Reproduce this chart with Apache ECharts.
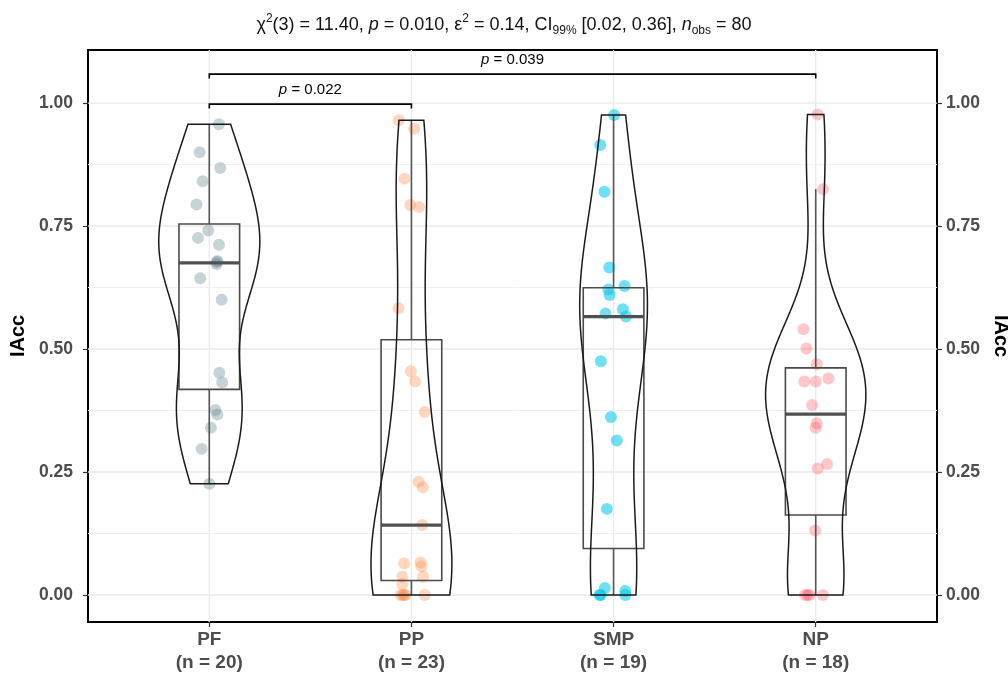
<!DOCTYPE html>
<html><head><meta charset="utf-8">
<script src="https://cdn.jsdelivr.net/npm/echarts@6/dist/echarts.min.js"></script>
<style>html,body{margin:0;padding:0;background:#fff}#c{width:1008px;height:678px}</style>
</head><body><div id="c"></div>
<script>
// ---- data ----
const categories = ['PF', 'PP', 'SMP', 'NP'];
const groupSizes = [20, 23, 19, 18];
const pfValues = [0.957,0.900,0.868,0.841,0.794,0.741,0.726,0.712,0.679,0.673,0.677,0.644,0.600,0.452,0.432,0.376,0.367,0.340,0.297,0.226];
const ppValues = [0.965,0.948,0.846,0.793,0.789,0.583,0.455,0.434,0.372,0.230,0.219,0.142,0.066,0.064,0.058,0.037,0.037,0.022,0,0,0,0,0];
const smpValues = [0.976,0.915,0.820,0.666,0.628,0.621,0.610,0.581,0.572,0.566,0.475,0.362,0.314,0.175,0.014,0.008,0,0,0];
const npValues = [0.977,0.825,0.540,0.501,0.469,0.440,0.434,0.434,0.386,0.349,0.340,0.266,0.257,0.131,0,0,0,0];
// jitter offsets (category units)
const pfJitter = [0.048,-0.048,0.054,-0.033,-0.063,-0.005,-0.056,0.048,0.040,0.036,0.038,-0.045,0.061,0.050,0.064,0.030,0.040,0.008,-0.038,0];
const ppJitter = [-0.063,0.013,-0.035,-0.006,0.038,-0.064,-0.003,0.018,0.066,0.035,0.056,0.053,0.045,-0.036,0.050,-0.045,0.058,-0.045,-0.053,-0.036,0.066,-0.042,-0.030];
const smpJitter = [0.003,-0.066,-0.045,-0.021,0.054,-0.025,-0.020,0.046,-0.040,0.061,-0.063,-0.013,0.016,-0.033,-0.043,0.058,-0.069,0.058,-0.064];
const npJitter = [0.010,0.036,-0.061,-0.046,0.005,0.063,-0.056,0.001,-0.018,0.005,0,0.056,0.010,-0.003,-0.053,-0.031,0.035,-0.040];
const yTicks = [0, 0.25, 0.5, 0.75, 1];
const yMinor = [0.125, 0.375, 0.625, 0.875];
const bracketFrom = [1, 1];
const bracketTo = [2, 4];
const bracketY = [0.998, 1.059];
const bracketP = ['0.022', '0.039'];

const groups = [pfValues, ppValues, smpValues, npValues];
const jitters = [pfJitter, ppJitter, smpJitter, npJitter];
const pointColors = ['rgba(100,135,145,0.45)', 'rgba(255,130,60,0.4)', 'rgba(0,200,235,0.7)', 'rgba(255,80,90,0.4)'];
const FONT = "'Liberation Sans', Arial, sans-serif";

// ---- stats ----
function quant(s, p) { const h = (s.length - 1) * p, lo = Math.floor(h), hi = Math.ceil(h); return s[lo] + (h - lo) * (s[hi] - s[lo]); }
function sd(a) { const m = a.reduce((x, y) => x + y, 0) / a.length; return Math.sqrt(a.reduce((s, x) => s + (x - m) * (x - m), 0) / (a.length - 1)); }
function bwNrd0(a) {
  const s = a.slice().sort((x, y) => x - y);
  const iqr = quant(s, 0.75) - quant(s, 0.25);
  let lo = Math.min(sd(a), iqr / 1.34);
  if (!lo) lo = sd(a) || 1;
  return 0.9 * lo * Math.pow(a.length, -0.2);
}
const boxStats = groups.map(a => {
  const s = a.slice().sort((x, y) => x - y);
  const q1 = quant(s, 0.25), med = quant(s, 0.5), q3 = quant(s, 0.75), iqr = q3 - q1;
  const lowW = s.filter(v => v >= q1 - 1.5 * iqr)[0];
  const inside = s.filter(v => v <= q3 + 1.5 * iqr);
  const highW = inside[inside.length - 1];
  return [lowW, q1, med, q3, highW];
});
const NPTS = 200;
const densities = groups.map(a => {
  const bw = bwNrd0(a), mn = Math.min(...a), mx = Math.max(...a);
  const out = [];
  for (let k = 0; k <= NPTS; k++) {
    const y = mn + (mx - mn) * k / NPTS;
    let d = 0;
    for (const x of a) d += Math.exp(-0.5 * ((y - x) / bw) ** 2);
    out.push([y, d / (a.length * bw * Math.sqrt(2 * Math.PI))]);
  }
  return out;
});
const maxDens = Math.max(...densities.map(g => Math.max(...g.map(p => p[1]))));
const VIOLIN_HALF = 0.25, BOX_HALF = 0.15;

const chart = echarts.init(document.getElementById('c'), null, { renderer: 'canvas' });
const series = [];

// grid lines
series.push({
  type: 'custom', z: 0, silent: true,
  data: yTicks.map(v => [2, v, 1]).concat(yMinor.map(v => [2, v, 0])),
  renderItem: (p, api) => {
    const y = api.value(1), major = api.value(2);
    const a = api.coord([0.4, y]), b = api.coord([4.6, y]);
    return { type: 'line', shape: { x1: a[0], y1: a[1], x2: b[0], y2: b[1] },
      style: { stroke: major ? '#e8e8e8' : '#f0f0f0', lineWidth: major ? 1.4 : 1 } };
  }
});
series.push({
  type: 'custom', z: 0, silent: true,
  data: categories.map((c, i) => [i + 1, 0.5]),
  renderItem: (p, api) => {
    const x = api.value(0);
    const a = api.coord([x, -0.055]), b = api.coord([x, 1.108]);
    return { type: 'line', shape: { x1: a[0], y1: a[1], x2: b[0], y2: b[1] },
      style: { stroke: '#ebebeb', lineWidth: 1.4 } };
  }
});
// points
groups.forEach((a, g) => {
  series.push({
    type: 'scatter', z: 2, symbolSize: 12, silent: true,
    itemStyle: { color: pointColors[g] },
    data: a.map((v, k) => [g + 1 + jitters[g][k], v])
  });
});
// boxes
series.push({
  type: 'custom', z: 3, silent: true,
  data: boxStats.map((b, i) => [i + 1, b[2]]),
  renderItem: (p, api) => {
    const i = p.dataIndex, x = api.value(0), b = boxStats[i];
    const c = (xx, yy) => api.coord([xx, yy]);
    const tl = c(x - BOX_HALF, b[3]), br = c(x + BOX_HALF, b[1]);
    const wTop = c(x, b[4]), wQ3 = c(x, b[3]), wQ1 = c(x, b[1]), wBot = c(x, b[0]);
    const mL = c(x - BOX_HALF, b[2]), mR = c(x + BOX_HALF, b[2]);
    const st = { stroke: '#555', lineWidth: 1.6, fill: null };
    return { type: 'group', children: [
      { type: 'line', shape: { x1: wTop[0], y1: wTop[1], x2: wQ3[0], y2: wQ3[1] }, style: st },
      { type: 'line', shape: { x1: wQ1[0], y1: wQ1[1], x2: wBot[0], y2: wBot[1] }, style: st },
      { type: 'rect', shape: { x: tl[0], y: tl[1], width: br[0] - tl[0], height: br[1] - tl[1] }, style: { stroke: '#4a4a4a', lineWidth: 1.6, fill: 'rgba(0,0,0,0)' } },
      { type: 'line', shape: { x1: mL[0], y1: mL[1], x2: mR[0], y2: mR[1] }, style: { stroke: '#505050', lineWidth: 3.2 } }
    ] };
  }
});
// violins
series.push({
  type: 'custom', z: 4, silent: true,
  data: categories.map((c, i) => [i + 1, boxStats[i][2]]),
  renderItem: (p, api) => {
    const i = p.dataIndex, x = api.value(0), d = densities[i];
    const pts = [];
    d.forEach(q => pts.push(api.coord([x - VIOLIN_HALF * q[1] / maxDens, q[0]])));
    for (let k = d.length - 1; k >= 0; k--) pts.push(api.coord([x + VIOLIN_HALF * d[k][1] / maxDens, d[k][0]]));
    return { type: 'polygon', shape: { points: pts }, style: { stroke: '#1a1a1a', lineWidth: 1.5, fill: 'rgba(0,0,0,0)' } };
  }
});
// brackets
series.push({
  type: 'custom', z: 5, silent: true,
  data: bracketFrom.map((f, i) => [f, bracketY[i], bracketTo[i]]),
  renderItem: (p, api) => {
    const i = p.dataIndex, x1 = api.value(0), y = api.value(1), x2 = api.value(2);
    const a = api.coord([x1, y - 0.009]), b = api.coord([x1, y]), c = api.coord([x2, y]), d = api.coord([x2, y - 0.009]);
    return { type: 'group', children: [
      { type: 'polyline', shape: { points: [a, b, c, d] }, style: { stroke: '#000', lineWidth: 1.6, fill: null } },
      { type: 'text', x: (b[0] + c[0]) / 2, y: b[1] - 14,
        style: { text: '{i|p} = ' + bracketP[i], align: 'center', verticalAlign: 'middle', fontSize: 15, fontFamily: FONT, fill: '#000',
          rich: { i: { fontStyle: 'italic', fontSize: 15, fontFamily: FONT } } } }
    ] };
  }
});

const yAxisBase = {
  type: 'value', min: -0.055, max: 1.108,
  axisLine: { show: false, onZero: false },
  axisTick: { show: true, customValues: yTicks, length: 5, lineStyle: { color: '#333', width: 1.2 } },
  axisLabel: { customValues: yTicks, formatter: v => v.toFixed(2), fontWeight: 'bold', fontSize: 17.5, color: '#4d4d4d', fontFamily: FONT },
  splitLine: { show: false },
  name: 'IAcc', nameLocation: 'middle',
  nameTextStyle: { fontWeight: 'bold', fontSize: 20, color: '#000', fontFamily: FONT }
};

chart.setOption({
  animation: false,
  backgroundColor: '#fff',
  title: {
    left: 'center', top: 8,
    text: '{n|χ}{sup|2}{n|(3) = 11.40, }{i|p}{n| = 0.010, ε}{sup|2}{n| = 0.14, CI}{sub|99%}{n| [0.02, 0.36], }{i|n}{sub|obs}{n| = 80}',
    textStyle: { fontWeight: 'normal', rich: {
      n: { fontSize: 18, fontWeight: 'normal', fontFamily: FONT, color: '#111', lineHeight: 24, verticalAlign: 'middle' },
      i: { fontSize: 18, fontWeight: 'normal', fontFamily: FONT, color: '#111', fontStyle: 'italic', lineHeight: 24, verticalAlign: 'middle' },
      sup: { fontSize: 12, fontWeight: 'normal', fontFamily: FONT, color: '#111', lineHeight: 12, verticalAlign: 'top' },
      sub: { fontSize: 12, fontWeight: 'normal', fontFamily: FONT, color: '#111', lineHeight: 12, verticalAlign: 'bottom' }
    } }
  },
  grid: { left: 88, right: 71, top: 50, bottom: 56, outerBoundsMode: 'none', containLabel: false, show: true, borderColor: '#000', borderWidth: 2, backgroundColor: 'rgba(0,0,0,0)' },
  xAxis: {
    type: 'value', min: 0.4, max: 4.6,
    axisLine: { show: false, onZero: false },
    axisTick: { show: true, customValues: [1, 2, 3, 4], length: 5, lineStyle: { color: '#333', width: 1.2 } },
    axisLabel: { customValues: [1, 2, 3, 4], margin: 6, fontWeight: 'bold', fontSize: 19, color: '#4d4d4d', lineHeight: 23, fontFamily: FONT,
      formatter: v => { const i = Math.round(v) - 1; return categories[i] + '\n(n = ' + groupSizes[i] + ')'; } },
    splitLine: { show: false }
  },
  yAxis: [
    Object.assign({}, yAxisBase, { position: 'left', nameGap: 58, nameRotate: 90,
      axisLabel: Object.assign({}, yAxisBase.axisLabel, { margin: 15 }) }),
    Object.assign({}, yAxisBase, { position: 'right', nameGap: 43, nameRotate: -90,
      axisLabel: Object.assign({}, yAxisBase.axisLabel, { margin: 9 }) })
  ],
  series: series
});
</script></body></html>
